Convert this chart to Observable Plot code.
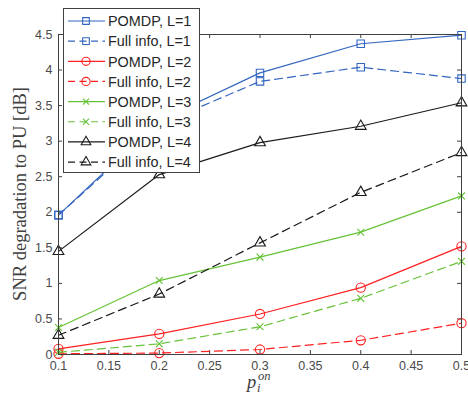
<!DOCTYPE html>
<html><head><meta charset="utf-8">
<script src="https://cdn.jsdelivr.net/npm/d3@7"></script>
<script src="https://cdn.jsdelivr.net/npm/@observablehq/plot@0.6"></script>
<style>body{margin:0;background:#fff} #chart{width:468px;height:394px}</style>
</head><body><div id="chart"></div>
<script>
const xValues = [0.1, 0.2, 0.3, 0.4, 0.5];
const pomdpL1 = [1.96, 3.29, 3.96, 4.37, 4.49];
const fullL1  = [1.96, 3.24, 3.84, 4.04, 3.88];
const pomdpL2 = [0.08, 0.29, 0.57, 0.94, 1.52];
const fullL2  = [0.01, 0.02, 0.07, 0.20, 0.44];
const pomdpL3 = [0.38, 1.04, 1.37, 1.72, 2.23];
const fullL3  = [0.03, 0.15, 0.39, 0.79, 1.31];
const pomdpL4 = [1.45, 2.53, 2.98, 3.21, 3.54];
const fullL4  = [0.27, 0.85, 1.57, 2.28, 2.84];
const seriesNames = ["POMDP, L=1","Full info, L=1","POMDP, L=2","Full info, L=2","POMDP, L=3","Full info, L=3","POMDP, L=4","Full info, L=4"];
const xTicks = [0.1, 0.15, 0.2, 0.25, 0.3, 0.35, 0.4, 0.45, 0.5];
const yTicks = [0, 0.5, 1, 1.5, 2, 2.5, 3, 3.5, 4, 4.5];
const yLabel = "SNR degradation to PU [dB]";

const BLUE = "#3366c0", RED = "#ff2020", GREEN = "#66c236", BLACK = "#1a1a1a";
const DASH = "8,5";
const seriesDefs = [
  {values: pomdpL1, color: BLUE, dash: null, symbol: "square", r: 4.2},
  {values: fullL1, color: BLUE, dash: DASH, symbol: "square", r: 4.2},
  {values: pomdpL2, color: RED, dash: null, symbol: "circle", r: 4.6},
  {values: fullL2, color: RED, dash: DASH, symbol: "circle", r: 4.6},
  {values: pomdpL3, color: GREEN, dash: null, symbol: "times", r: 3.2},
  {values: fullL3, color: GREEN, dash: DASH, symbol: "times", r: 3.2},
  {values: pomdpL4, color: BLACK, dash: null, symbol: "triangle", r: 4.0},
  {values: fullL4, color: BLACK, dash: DASH, symbol: "triangle", r: 4.0}
].map((s, i) => ({...s, name: seriesNames[i]}));

const marks = [];
const AX = "#404040";
marks.push(Plot.tickX(xTicks, {x: d => d, insetTop: 316, stroke: AX}));
marks.push(Plot.tickX(xTicks, {x: d => d, insetBottom: 316, stroke: AX}));
marks.push(Plot.tickY(yTicks, {y: d => d, insetRight: 399, stroke: AX}));
marks.push(Plot.tickY(yTicks, {y: d => d, insetLeft: 399, stroke: AX}));
marks.push(Plot.axisX({ticks: xTicks, tickSize: 0, tickPadding: 7, tickFormat: d => String(d), label: null, fill: "#4a4a4a", fontSize: 12.5}));
marks.push(Plot.axisY({ticks: yTicks, tickSize: 0, tickPadding: 6, tickFormat: d => String(d), label: null, fill: "#4a4a4a", fontSize: 12.5}));
for (const s of seriesDefs) {
  const data = xValues.map((x, i) => ({x, y: s.values[i]}));
  marks.push(Plot.line(data, {x: "x", y: "y", stroke: s.color, strokeWidth: 1.2, strokeDasharray: s.dash}));
  marks.push(Plot.dot(data, {x: "x", y: "y", symbol: () => s.symbol, r: s.r, stroke: s.color, fill: "none", strokeWidth: 1.1}));
}
marks.push(Plot.frame({stroke: AX}));

const svgNode = Plot.plot({
  width: 468, height: 394,
  marginLeft: 58, marginRight: 7, marginTop: 34, marginBottom: 40,
  x: {domain: [0.1, 0.5]},
  y: {domain: [0, 4.5]},
  style: {fontFamily: "'Liberation Sans', Arial, sans-serif", fontSize: "12.5px", background: "white"},
  marks
});
document.getElementById("chart").appendChild(svgNode);

const svg = d3.select(svgNode);
// y label
svg.append("text")
  .attr("transform", "translate(26,194) rotate(-90)")
  .attr("text-anchor", "middle")
  .attr("font-family", "'Liberation Serif', 'Times New Roman', serif")
  .attr("font-size", 18.5).attr("fill", "#404040")
  .text(yLabel);
// x label p_i^{on}
const xl = svg.append("g").attr("font-family", "'Liberation Serif', 'Times New Roman', serif")
  .attr("font-style", "italic").attr("fill", "#404040").attr("text-anchor", "start");
xl.append("text").attr("x", 247).attr("y", 388).attr("font-size", 18.5).text("p");
xl.append("text").attr("x", 257).attr("y", 392).attr("font-size", 12.5).text("i");
xl.append("text").attr("x", 258).attr("y", 379.5).attr("font-size", 12.5).text("on");

// legend
const lg = svg.append("g").attr("text-anchor", "start");
lg.append("rect").attr("x", 63.5).attr("y", 8.5).attr("width", 136).attr("height", 164)
  .attr("fill", "white").attr("stroke", "#404040");
const symMap = {square: d3.symbolSquare, circle: d3.symbolCircle, times: d3.symbolTimes, triangle: d3.symbolTriangle};
seriesDefs.forEach((s, i) => {
  const cy = 21 + i * 20.15;
  lg.append("line").attr("x1", 68).attr("x2", 105).attr("y1", cy).attr("y2", cy)
    .attr("stroke", s.color).attr("stroke-width", 1.2)
    .attr("stroke-dasharray", s.dash ? "7,4.5" : null);
  lg.append("path").attr("transform", `translate(86,${cy})`)
    .attr("d", d3.symbol(symMap[s.symbol], Math.PI * s.r * s.r * 0.8)())
    .attr("fill", "none").attr("stroke", s.color).attr("stroke-width", 1.1);
  lg.append("text").attr("x", 108).attr("y", cy + 5.2)
    .attr("font-family", "'Liberation Sans', Arial, sans-serif").attr("font-size", 14.4)
    .attr("fill", "#262626").text(s.name);
});
</script>
</body></html>
